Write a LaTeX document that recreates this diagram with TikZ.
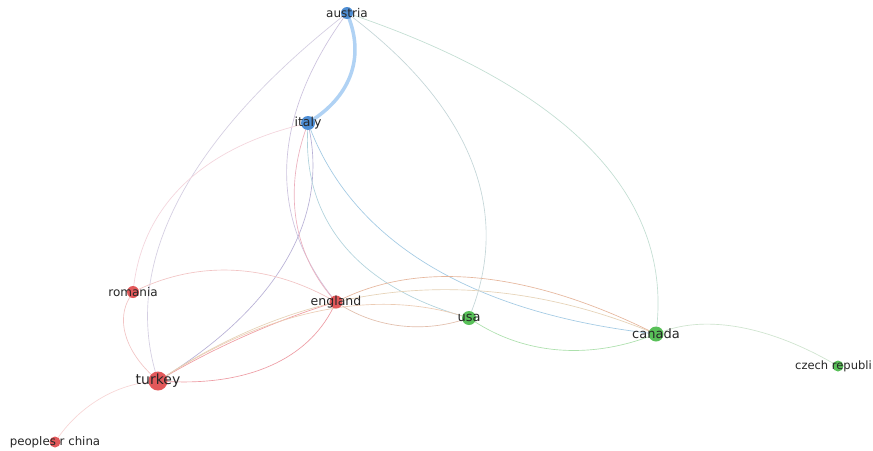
\documentclass[tikz,border=0pt]{standalone}
\usepackage{fontspec}
\setmainfont{DejaVu Sans}
\usetikzlibrary{backgrounds}
\definecolor{nred}{RGB}{226,88,90}
\definecolor{nblue}{RGB}{78,142,212}
\definecolor{ngreen}{RGB}{88,192,88}
\tikzset{
  vnode/.style={circle,inner sep=0pt,draw=none},
  lbl/.style={inner sep=0pt,text=black!85,font=\fontsize{12}{12}\selectfont},
  edge/.style={line width=0.65pt,line cap=round},
}
\begin{document}
\begin{tikzpicture}[x=1pt,y=-1pt]
\useasboundingbox (0,0) rectangle (873,450);
% nodes
\node[vnode,fill=nblue,minimum size=12pt] (austria) at (347,13) {};
\node[vnode,fill=nblue,minimum size=14pt] (italy) at (308,123) {};
\node[vnode,fill=nred,minimum size=12pt] (romania) at (133,292) {};
\node[vnode,fill=nred,minimum size=13pt] (england) at (336,302) {};
\node[vnode,fill=ngreen,minimum size=14pt] (usa) at (469,318) {};
\node[vnode,fill=ngreen,minimum size=15pt] (canada) at (656,334) {};
\node[vnode,fill=ngreen,minimum size=11pt] (czech) at (838,366) {};
\node[vnode,fill=nred,minimum size=19pt] (turkey) at (158,381) {};
\node[vnode,fill=nred,minimum size=11pt] (china) at (55,442) {};
% edges
\begin{pgfonlayer}{background}
\fill[white] (0,0) rectangle (873,450);
\draw[edge,color={rgb,255:red,176;green,210;blue,244},line width=3.5pt] (austria) .. controls (363.7,57.7) and (350.7,94.3) .. (italy);
\draw[edge,color={rgb,255:red,212;green,206;blue,226}] (austria) .. controls (187,139.7) and (124,262.3) .. (turkey);
\draw[edge,color={rgb,255:red,204;green,194;blue,222}] (austria) .. controls (271.7,119) and (268,215.3) .. (england);
\draw[edge,color={rgb,255:red,196;green,214;blue,216}] (austria) .. controls (470.3,107) and (511,208.7) .. (usa);
\draw[edge,color={rgb,255:red,194;green,222;blue,210}] (austria) .. controls (567.7,88.3) and (670.7,195.3) .. (canada);
\draw[edge,color={rgb,255:red,184;green,176;blue,214}] (italy) .. controls (327.3,219.7) and (277.3,305.7) .. (turkey);
\draw[edge,color={rgb,255:red,236;green,176;blue,190}] (italy) .. controls (284,192.3) and (293.3,252) .. (england);
\draw[edge,color={rgb,255:red,176;green,210;blue,220}] (italy) .. controls (303.3,220.3) and (357,285.3) .. (usa);
\draw[edge,color={rgb,255:red,162;green,202;blue,228}] (italy) .. controls (354.7,241.7) and (470.7,312) .. (canada);
\draw[edge,color={rgb,255:red,244;green,212;blue,220}] (italy) .. controls (202,149) and (143.7,205.3) .. (romania);
\draw[edge,color={rgb,255:red,242;green,196;blue,196}] (romania) .. controls (199.7,260.7) and (267.3,264) .. (england);
\draw[edge,color={rgb,255:red,242;green,196;blue,196}] (romania) .. controls (116.3,319.3) and (124.7,349) .. (turkey);
\draw[edge,color={rgb,255:red,240;green,156;blue,162}] (turkey) .. controls (216,347) and (275.3,320.7) .. (england);
\draw[edge,color={rgb,255:red,238;green,156;blue,164}] (turkey) .. controls (248,385.7) and (307.3,359.3) .. (england);
\draw[edge,color={rgb,255:red,236;green,204;blue,180}] (turkey) .. controls (270,309.7) and (373.7,288.7) .. (usa);
\draw[edge,color={rgb,255:red,230;green,210;blue,182}] (turkey) .. controls (314.7,279) and (480.7,263.3) .. (canada);
\draw[edge,color={rgb,255:red,230;green,182;blue,156}] (england) .. controls (421.3,260.7) and (528,271.3) .. (canada);
\draw[edge,color={rgb,255:red,226;green,190;blue,172}] (england) .. controls (376.7,327.3) and (421,332.7) .. (usa);
\draw[edge,color={rgb,255:red,172;green,224;blue,172}] (usa) .. controls (525,354) and (587.3,359.3) .. (canada);
\draw[edge,color={rgb,255:red,206;green,228;blue,206}] (canada) .. controls (707.3,315.3) and (768,326) .. (czech);
\draw[edge,color={rgb,255:red,248;green,214;blue,214}] (turkey) .. controls (114.7,385.7) and (80.3,406) .. (china);
\end{pgfonlayer}
% labels
\node[lbl] (austria-l) at (347,13) {austria};
\node[lbl,font=\fontsize{12.5}{12.5}\selectfont] (italy-l) at (308,123) {italy};
\node[lbl] (romania-l) at (133,292) {romania};
\node[lbl,font=\fontsize{12.5}{12.5}\selectfont] (england-l) at (336,302) {england};
\node[lbl,font=\fontsize{13}{13}\selectfont] (usa-l) at (469,318) {usa};
\node[lbl,font=\fontsize{13}{13}\selectfont] (canada-l) at (656,334) {canada};
\node[lbl,anchor=west,font=\fontsize{11.5}{11.5}\selectfont] (czech-l) at (795,366) {czech republi};
\node[lbl,font=\fontsize{14}{14}\selectfont] (turkey-l) at (158,381) {turkey};
\node[lbl,font=\fontsize{11.8}{11.8}\selectfont] (china-l) at (55,442) {peoples r china};
\end{tikzpicture}
\end{document}
